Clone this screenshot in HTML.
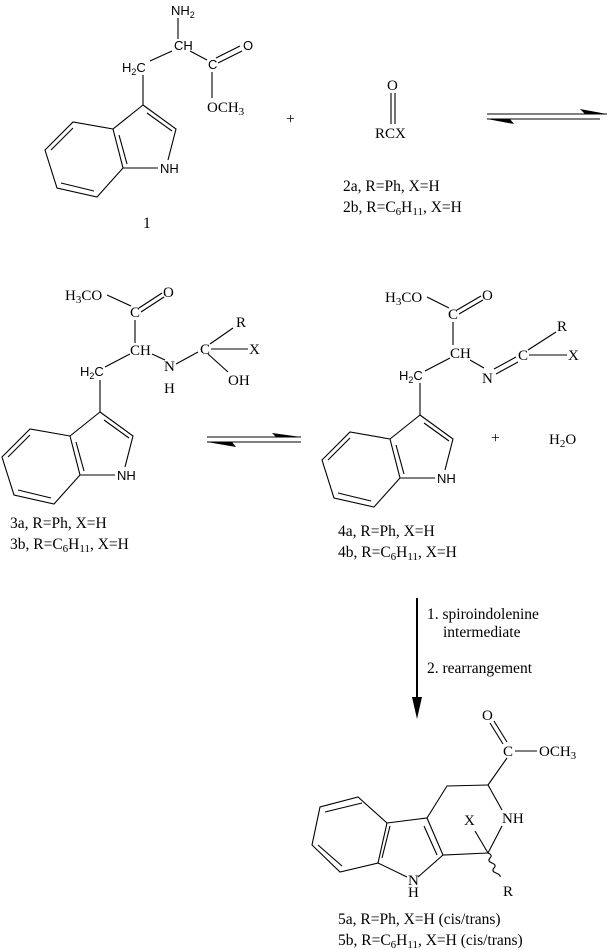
<!DOCTYPE html>
<html><head><meta charset="utf-8"><style>
html,body{margin:0;padding:0;background:#fff;}
svg{display:block;}
text{font-family:"Liberation Serif",serif;font-size:15.5px;fill:#000;}
.s{font-family:"Liberation Sans",sans-serif;font-size:13px;}
.a{font-size:15px;}
line,polyline,path{stroke:#000;stroke-width:1.1;fill:none;}
</style></head><body>
<svg width="611" height="950" viewBox="0 0 611 950" xmlns="http://www.w3.org/2000/svg">
<defs>
<g id="ind">
 <polyline points="0,0 33,24 25,55"/>
 <line x1="4" y1="8" x2="29" y2="26"/>
 <line x1="0" y1="0" x2="-30" y2="24"/>
 <polyline points="-30,24 -70,17 -98,45 -86,83 -46,92 -20,63 -30,24"/>
 <line x1="-24" y1="30" x2="-16" y2="59"/>
 <line x1="-70" y1="23" x2="-92" y2="45"/>
 <line x1="-82" y1="78" x2="-49" y2="86"/>
 <line x1="-20" y1="63" x2="15" y2="63"/>
 <text class="s" x="17" y="68">NH</text>
</g>
</defs>

<!-- Compound 1 -->
<text class="s" x="171" y="15">NH<tspan font-size="9" dy="3">2</tspan></text>
<line x1="178" y1="18" x2="178" y2="39"/>
<text class="s" x="174" y="50">CH</text>
<line x1="172" y1="51" x2="150" y2="61"/>
<line x1="190" y1="51" x2="207" y2="60"/>
<text class="s" x="122" y="72">H<tspan font-size="9" dy="3">2</tspan><tspan dy="-3">C</tspan></text>
<text class="s" x="208" y="69">C</text>
<line x1="216" y1="58" x2="240" y2="46"/>
<line x1="218" y1="63" x2="242" y2="51"/>
<text class="s" x="243" y="50">O</text>
<line x1="212" y1="72" x2="212" y2="98"/>
<text class="a" x="207" y="112">OCH<tspan font-size="11" dy="3">3</tspan></text>
<line x1="143" y1="75" x2="143" y2="105"/>
<use href="#ind" x="143" y="105"/>
<text x="143" y="228">1</text>
<text x="286" y="124" font-size="18">+</text>

<!-- Compound 2 -->
<text class="a" x="387" y="90">O</text>
<line x1="391" y1="93" x2="391" y2="124"/>
<line x1="395" y1="93" x2="395" y2="124"/>
<text class="a" x="375" y="138">RCX</text>
<text x="343" y="191">2a, R=Ph, X=H</text>
<text x="343" y="212">2b, R=C<tspan font-size="11" dy="3">6</tspan><tspan dy="-3">H</tspan><tspan font-size="11" dy="3">11</tspan><tspan dy="-3">, X=H</tspan></text>

<!-- Arrow 1 -->
<line x1="487" y1="114" x2="607" y2="114"/>
<polygon points="580,109 607,114 585,114" fill="#000"/>
<line x1="487" y1="119" x2="600" y2="119"/>
<polygon points="487,119 514,124 510,119" fill="#000"/>

<!-- Compound 3 -->
<text class="a" x="65" y="300">H<tspan font-size="11" dy="3">3</tspan><tspan dy="-3">CO</tspan></text>
<line x1="107" y1="295" x2="131" y2="306"/>
<line x1="139" y1="308" x2="162" y2="293"/>
<line x1="141" y1="312" x2="164" y2="297"/>
<text class="a" x="163" y="297">O</text>
<text class="a" x="130" y="317">C</text>
<line x1="135" y1="320" x2="135" y2="343"/>
<text class="a" x="130" y="355">CH</text>
<line x1="130" y1="354" x2="105" y2="367"/>
<line x1="152" y1="354" x2="165" y2="360"/>
<text class="s" x="80" y="376">H<tspan font-size="9" dy="3">2</tspan><tspan dy="-3">C</tspan></text>
<text class="a" x="164" y="371">N</text>
<text class="a" x="164" y="393">H</text>
<line x1="176" y1="364" x2="198" y2="352"/>
<text class="a" x="200" y="354">C</text>
<line x1="210" y1="344" x2="233" y2="328"/>
<text class="a" x="236" y="327">R</text>
<line x1="211" y1="349" x2="248" y2="349"/>
<text class="a" x="249" y="354">X</text>
<line x1="208" y1="354" x2="228" y2="372"/>
<text class="a" x="228" y="385">OH</text>
<line x1="100" y1="380" x2="100" y2="412"/>
<use href="#ind" x="100" y="412"/>
<text x="10" y="528">3a, R=Ph, X=H</text>
<text x="10" y="549">3b, R=C<tspan font-size="11" dy="3">6</tspan><tspan dy="-3">H</tspan><tspan font-size="11" dy="3">11</tspan><tspan dy="-3">, X=H</tspan></text>

<!-- Arrow 2 -->
<line x1="207" y1="437" x2="301" y2="437"/>
<polygon points="272,433 301,437 276,437" fill="#000"/>
<line x1="207" y1="442" x2="301" y2="442"/>
<polygon points="207,442 236,447 232,442" fill="#000"/>

<!-- Compound 4 -->
<text class="a" x="385" y="302">H<tspan font-size="11" dy="3">3</tspan><tspan dy="-3">CO</tspan></text>
<line x1="427" y1="297" x2="449" y2="308"/>
<line x1="457" y1="310" x2="481" y2="296"/>
<line x1="459" y1="314" x2="483" y2="300"/>
<text class="a" x="482" y="300">O</text>
<text class="a" x="448" y="319">C</text>
<line x1="453" y1="322" x2="453" y2="345"/>
<text class="a" x="450" y="358">CH</text>
<line x1="450" y1="358" x2="425" y2="371"/>
<line x1="470" y1="360" x2="484" y2="368"/>
<text class="s" x="399" y="380">H<tspan font-size="9" dy="3">2</tspan><tspan dy="-3">C</tspan></text>
<text class="a" x="482" y="383">N</text>
<line x1="494" y1="369" x2="516" y2="357"/>
<line x1="496" y1="374" x2="518" y2="362"/>
<text class="a" x="518" y="360">C</text>
<line x1="528" y1="350" x2="556" y2="332"/>
<text class="a" x="557" y="331">R</text>
<line x1="529" y1="355" x2="567" y2="355"/>
<text class="a" x="568" y="360">X</text>
<line x1="420" y1="383" x2="420" y2="415"/>
<use href="#ind" x="420" y="415"/>
<text x="491" y="443" font-size="18">+</text>
<text class="a" x="549" y="444">H<tspan font-size="11" dy="3">2</tspan><tspan dy="-3">O</tspan></text>
<text x="338" y="536">4a, R=Ph, X=H</text>
<text x="338" y="557">4b, R=C<tspan font-size="11" dy="3">6</tspan><tspan dy="-3">H</tspan><tspan font-size="11" dy="3">11</tspan><tspan dy="-3">, X=H</tspan></text>

<!-- Down arrow -->
<line x1="417" y1="598" x2="417" y2="705" style="stroke-width:2"/>
<polygon points="412,697 422,697 417,719" fill="#000"/>
<text x="427" y="619">1. spiroindolenine</text>
<text x="443" y="637">intermediate</text>
<text x="427" y="673">2. rearrangement</text>

<!-- Compound 5 -->
<text class="a" x="482" y="720">O</text>
<line x1="490" y1="723" x2="503" y2="744"/>
<line x1="494" y1="721" x2="507" y2="742"/>
<text class="a" x="503" y="756">C</text>
<line x1="515" y1="751" x2="537" y2="751"/>
<text class="a" x="539" y="756">OCH<tspan font-size="11" dy="3">3</tspan></text>
<line x1="507" y1="758" x2="488" y2="785"/>
<polyline points="488,785 447,786 427,818"/>
<line x1="488" y1="785" x2="502" y2="810"/>
<text class="a" x="502" y="823">NH</text>
<line x1="502" y1="826" x2="488" y2="853"/>
<polyline points="387,823 427,818 443,855 488,853"/>
<line x1="424" y1="826" x2="437" y2="855"/>
<polyline points="387,823 358,797 320,807 312,845 340,872 378,863 387,823"/>
<line x1="362" y1="803" x2="325" y2="812"/>
<line x1="318" y1="845" x2="342" y2="866"/>
<line x1="382" y1="858" x2="390" y2="826"/>
<line x1="378" y1="863" x2="407" y2="877"/>
<line x1="443" y1="855" x2="418" y2="877"/>
<text class="a" x="408" y="885">N</text>
<text class="a" x="408" y="897">H</text>
<text class="a" x="464" y="825">X</text>
<line x1="475" y1="831" x2="488" y2="853"/>
<path d="M488,853 q5,2 2,5 q-3,3 2,5 q5,2 2,5 q-3,3 2,5 q5,2 4,4"/>
<text class="a" x="503" y="896">R</text>
<text x="338" y="924">5a, R=Ph, X=H (cis/trans)</text>
<text x="338" y="945">5b, R=C<tspan font-size="11" dy="3">6</tspan><tspan dy="-3">H</tspan><tspan font-size="11" dy="3">11</tspan><tspan dy="-3">, X=H (cis/trans)</tspan></text>
</svg>
</body></html>
